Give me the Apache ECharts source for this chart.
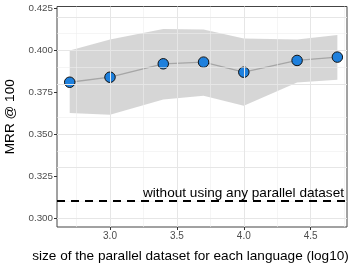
<!DOCTYPE html>
<html>
<head>
<meta charset="utf-8">
<script src="https://cdn.jsdelivr.net/npm/echarts@6/dist/echarts.min.js"></script>
<style>html,body{margin:0;padding:0;background:#fff}#c{width:357px;height:268px}</style>
</head>
<body>
<div id="c"></div>
<script>
// data
const xValues = [2.699, 3.0, 3.398, 3.699, 4.0, 4.398, 4.699];
const mrr = [0.381, 0.384, 0.392, 0.393, 0.387, 0.394, 0.396];
const upperBand = [0.400, 0.4065, 0.4128, 0.4125, 0.4071, 0.4065, 0.4092];
const lowerBand = [0.3626, 0.3616, 0.3707, 0.3730, 0.3670, 0.3809, 0.3825];
const baseline = 0.308;
const baselineLabel = 'without using any parallel dataset';
const xTicks = [3.0, 3.5, 4.0, 4.5];
const xMinor = [2.75, 3.25, 3.75, 4.25, 4.75];
const yTicks = [0.300, 0.325, 0.350, 0.375, 0.400, 0.425];
const yMinor = [0.3125, 0.3375, 0.3625, 0.3875, 0.4125];
const xTitle = 'size of the parallel dataset for each language (log10)';
const yTitle = 'MRR @ 100';

const xMin = 2.604, xMax = 4.771, yMin = 0.2946, yMax = 0.4262;
const font = 'Liberation Sans, Arial, sans-serif';

const chart = echarts.init(document.getElementById('c'), null, {renderer: 'canvas'});

const gridLines = [];
xMinor.forEach(v => gridLines.push({xAxis: v, lineStyle: {color: '#EFEFEF', width: 0.6, type: 'solid'}}));
yMinor.forEach(v => gridLines.push({yAxis: v, lineStyle: {color: '#EFEFEF', width: 0.6, type: 'solid'}}));
xTicks.forEach(v => gridLines.push({xAxis: v, lineStyle: {color: '#E6E6E6', width: 1, type: 'solid'}}));
yTicks.forEach(v => gridLines.push({yAxis: v, lineStyle: {color: '#E6E6E6', width: 1, type: 'solid'}}));

chart.setOption({
  animation: false,
  grid: {left: 57, right: 10, top: 6.5, bottom: 41, containLabel: false, outerBoundsMode: 'none',
    show: true, borderColor: '#444', borderWidth: 1, backgroundColor: 'transparent'},
  xAxis: {
    type: 'value', min: xMin, max: xMax,
    name: xTitle, nameLocation: 'middle', nameGap: 22,
    nameTextStyle: {fontFamily: font, fontSize: 13.6, color: '#000', padding: [0, 23, 0, 0]},
    axisLine: {show: false},
    axisTick: {show: true, customValues: xTicks, length: 3, lineStyle: {color: '#333'}},
    axisLabel: {customValues: xTicks, fontFamily: font, fontSize: 10, color: '#4D4D4D', margin: 4,
      formatter: v => v.toFixed(1)},
    splitLine: {show: false}
  },
  yAxis: {
    type: 'value', min: yMin, max: yMax,
    name: yTitle, nameLocation: 'middle', nameGap: 35, nameRotate: 90,
    nameTextStyle: {fontFamily: font, fontSize: 13.6, color: '#000'},
    axisLine: {show: false},
    axisTick: {show: true, customValues: yTicks, length: 3, lineStyle: {color: '#333'}},
    axisLabel: {customValues: yTicks, fontFamily: font, fontSize: 9.8, color: '#4D4D4D', margin: 4,
      formatter: v => v.toFixed(3)},
    splitLine: {show: false}
  },
  series: [
    {
      type: 'line', data: [], silent: true,
      markLine: {silent: true, symbol: 'none', label: {show: false}, data: gridLines}
    },
    {
      type: 'custom', silent: true, z: 2,
      data: [0],
      renderItem: function (params, api) {
        const pts = [];
        for (let i = 0; i < xValues.length; i++) pts.push(api.coord([xValues[i], upperBand[i]]));
        for (let i = xValues.length - 1; i >= 0; i--) pts.push(api.coord([xValues[i], lowerBand[i]]));
        return {type: 'polygon', shape: {points: pts}, style: {fill: 'rgba(153,153,153,0.4)'}};
      }
    },
    {
      type: 'line', data: [], silent: true, z: 3,
      markLine: {
        silent: true, symbol: 'none',
        lineStyle: {color: '#000', width: 2, type: [8, 6]},
        label: {show: true, position: 'insideEndTop', formatter: baselineLabel,
          fontFamily: font, fontSize: 13.6, color: '#000', distance: [3, 1]},
        data: [{yAxis: baseline}]
      }
    },
    {
      type: 'line', z: 4,
      data: xValues.map((x, i) => [x, mrr[i]]),
      lineStyle: {color: '#A6A6A6', width: 1.3},
      symbol: 'circle', symbolSize: 10.5,
      itemStyle: {color: '#1E80DD', borderColor: '#111', borderWidth: 1}
    }
  ]
});
</script>
</body>
</html>
